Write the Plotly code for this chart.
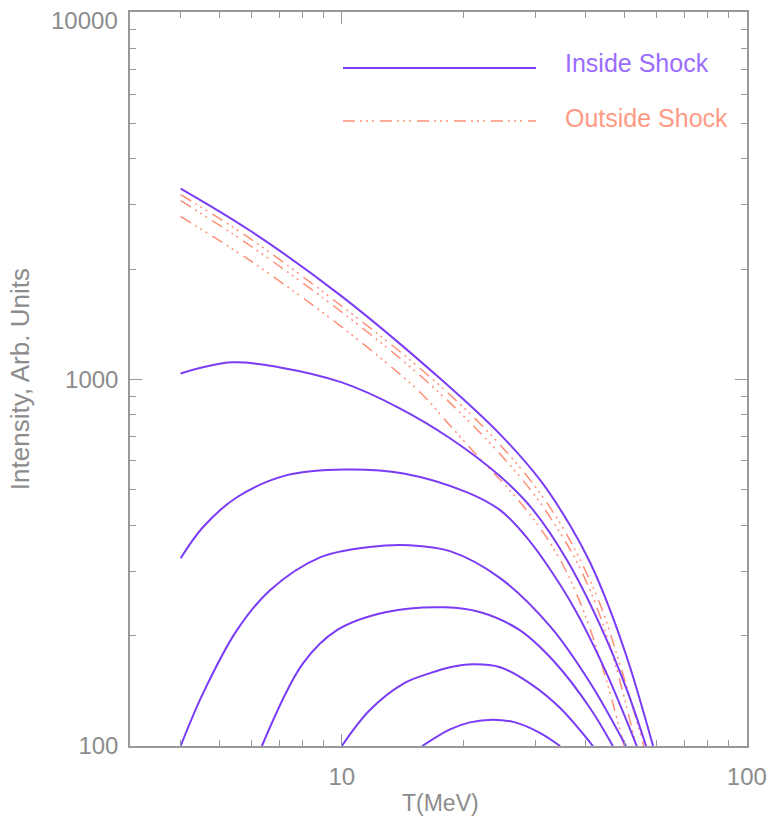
import plotly.graph_objects as go

# Energy (MeV) and intensity samples for each spectrum inside the shock
inside_x = [
    [4.0, 5.93, 10.0, 17.8, 24.6, 30.9, 36.6, 41.0, 45.9, 51.5, 58.7],
    [4.0, 5.36, 7.04, 10.0, 13.9, 18.5, 24.6, 29.7, 36.0, 43.4, 50.6, 56.4],
    [4.0, 4.54, 5.51, 7.32, 10.2, 14.2, 20.4, 24.6, 28.3, 31.8, 37.7, 44.7, 53.5],
    [4.0, 4.54, 5.51, 6.65, 8.84, 11.7, 14.7, 18.5, 24.6, 32.7, 41.0, 50.3],
    [6.35, 8.02, 9.73, 12.9, 18.0, 21.9, 27.5, 33.6, 41.0, 46.7],
    [10.0, 11.7, 14.2, 16.5, 18.5, 21.1, 24.6, 29.2, 34.6, 41.7],
    [15.8, 18.5, 20.7, 23.6, 26.8, 30.9, 34.6],
]
inside_y = [
    [3315, 2547, 1684, 988, 708, 531, 400, 317, 236, 164, 100],
    [1038, 1113, 1078, 981, 834, 691, 544, 440, 321, 214, 142, 100],
    [325, 395, 477, 548, 568, 554, 492, 440, 376, 317, 235, 161, 100],
    [100, 139, 207, 266, 327, 349, 353, 340, 287, 212, 149, 100],
    [100, 168, 207, 232, 239, 232, 207, 169, 127, 100],
    [100, 125, 148, 158, 164, 167, 164, 148, 127, 100],
    [100, 111, 116, 118, 116, 108.5, 100],
]

# Spectra outside the shock
outside_x = [
    [4.0, 5.93, 10.1, 15.6, 21.9, 29.2, 34.6, 38.7, 43.4, 48.6, 55.7],
    [4.0, 5.93, 10.1, 15.6, 21.9, 29.2, 34.0, 38.1, 42.7, 47.5, 53.3],
    [4.0, 5.93, 10.1, 15.6, 18.5, 21.9, 26.0, 30.9, 35.0, 39.2, 43.9, 49.8],
]
outside_y = [
    [3192, 2423, 1571, 1072, 759, 531, 405, 323, 244, 167, 100],
    [3074, 2318, 1513, 1025, 717, 501, 393, 317, 238, 165, 100],
    [2781, 2110, 1377, 922, 749, 609, 498, 393, 315, 239, 166, 100],
]

x_ticks = [10, 100]
y_ticks = [100, 1000, 10000]
y_tick_text = ["100", "1000", ""]  # top label is placed separately below

PURPLE = "#7a3cf5"
SALMON = "#ff9077"
GREY = "#999999"
TEXT_GREY = "#8c8c8c"
DASH = "12px,5px,2px,4px,2px,4px,2px,6px"
FONT = "Liberation Sans, Arial, sans-serif"

fig = go.Figure()
for xs, ys in zip(outside_x, outside_y):
    fig.add_trace(go.Scatter(x=xs, y=ys, mode="lines",
                             line=dict(color=SALMON, width=1.5, dash=DASH,
                                       shape="spline", smoothing=1.0),
                             showlegend=False, hoverinfo="skip"))
for xs, ys in zip(inside_x, inside_y):
    fig.add_trace(go.Scatter(x=xs, y=ys, mode="lines",
                             line=dict(color=PURPLE, width=2,
                                       shape="spline", smoothing=1.0),
                             showlegend=False, hoverinfo="skip"))

axis_common = dict(
    type="log", showgrid=False, zeroline=False, automargin=False,
    showline=True, linecolor=GREY, linewidth=1.5,
    mirror="allticks", ticks="inside", ticklen=12, tickwidth=1.2,
    tickcolor=GREY, tickfont=dict(family=FONT, size=24, color=TEXT_GREY),
    minor=dict(ticks="inside", ticklen=6, tickwidth=1.2, tickcolor=GREY,
               dtick="D1", showgrid=False),
)

fig.update_xaxes(**axis_common, range=[0.4771, 2.0005],
                 tickvals=x_ticks, ticktext=[str(v) for v in x_ticks],
                 ticklabelstandoff=8)
fig.update_yaxes(**axis_common, range=[2, 4.002],
                 tickvals=y_ticks, ticktext=y_tick_text,
                 ticklabelstandoff=5)

# Top y label, set just inside the figure edge
fig.add_annotation(xref="paper", yref="paper", x=-0.0162, y=0.989,
                   text=str(y_ticks[-1]), showarrow=False,
                   xanchor="right", yanchor="middle",
                   font=dict(family=FONT, size=24, color=TEXT_GREY))

# Axis titles
fig.add_annotation(xref="paper", yref="paper", x=0.503, y=-0.0777,
                   text="T(MeV)", showarrow=False,
                   xanchor="center", yanchor="middle",
                   font=dict(family=FONT, size=23, color=TEXT_GREY))
fig.add_annotation(xref="paper", yref="paper", x=-0.178, y=0.5,
                   text="Intensity, Arb. Units", showarrow=False,
                   textangle=-90, xanchor="center", yanchor="middle",
                   font=dict(family=FONT, size=26, color=TEXT_GREY))

# Legend keys and labels
legend_items = [
    ("Inside Shock", PURPLE, "solid", 2, "#9a6cff", 0.9237, 0.9305),
    ("Outside Shock", SALMON, DASH, 1.5, "#ff9a85", 0.8515, 0.8556),
]
for label, lc, dash, lw, tc, ly, ty in legend_items:
    fig.add_shape(type="line", xref="paper", yref="paper",
                  x0=0.3452, x1=0.658, y0=ly, y1=ly,
                  line=dict(color=lc, width=lw, dash=dash))
    fig.add_annotation(xref="paper", yref="paper", x=0.7018, y=ty,
                       text=label, showarrow=False, xanchor="left",
                       yanchor="middle",
                       font=dict(family=FONT, size=25, color=tc))

fig.update_layout(
    width=769, height=827,
    margin=dict(l=130, r=22, t=12, b=81),
    paper_bgcolor="white", plot_bgcolor="white",
    showlegend=False,
)

fig.write_html("out.html")
